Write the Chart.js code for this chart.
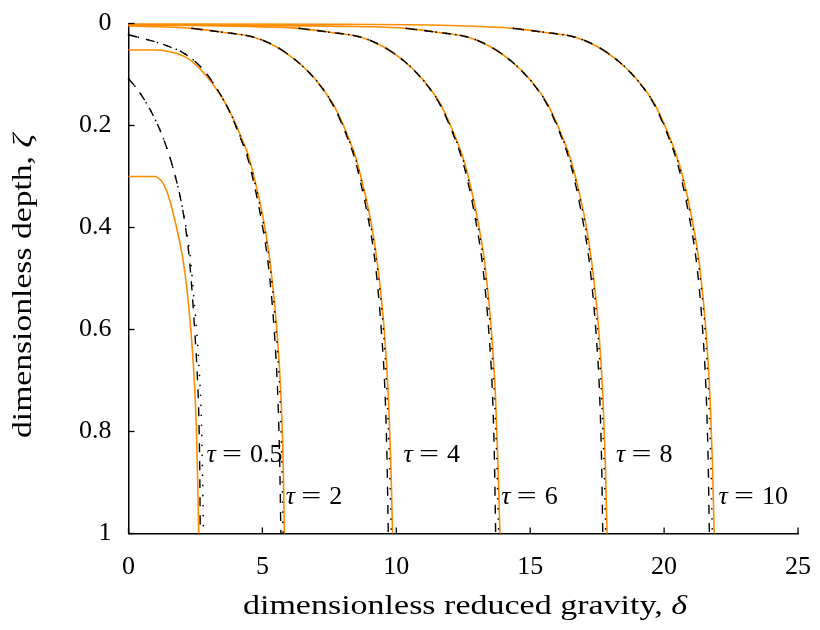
<!DOCTYPE html>
<html>
<head>
<meta charset="utf-8">
<script src="https://cdn.jsdelivr.net/npm/chart.js@4/dist/chart.umd.min.js"></script>
<style>
  html, body { margin: 0; padding: 0; background: #fff; }
  #wrap { width: 820px; height: 630px; }
</style>
</head>
<body>
<div id="wrap"><canvas id="c" width="820" height="630"></canvas></div>
<script>
// Profiles of reduced gravity δ against depth ζ, one family per time τ.
// Each point is [δ, ζ].
const tauLabels = ['0.5', '2', '4', '6', '8', '10'];
const labelDelta = [2.91, 5.87, 10.27, 13.92, 18.2, 22.03];
const labelZeta  = [0.846, 0.928, 0.846, 0.928, 0.846, 0.928];
const xTicks = [0, 5, 10, 15, 20, 25];
const yTicks = [0, 0.2, 0.4, 0.6, 0.8, 1];

// solid (orange) profiles
const solid05 = [[0,0.3],[1.0,0.3],[1.12,0.303],[1.25,0.31],[1.4,0.325],[1.57,0.352],[1.75,0.39],[1.9,0.425],[2.05,0.468],[2.19,0.525],[2.31,0.59],[2.41,0.66],[2.49,0.735],[2.55,0.82],[2.59,0.91],[2.62,1.0]];
const solid2  = [[0,0.052],[1.0,0.052],[1.4,0.054],[1.8,0.059],[2.2,0.068],[2.6,0.085],[2.94,0.105],[3.3,0.13],[3.57,0.152],[3.9,0.185],[4.2,0.222],[4.47,0.258],[4.73,0.31],[5.05,0.388],[5.3,0.473],[5.54,0.601],[5.7,0.738],[5.78,0.87],[5.82,1.0]];
const solid4  = [[0,0.005],[1.2,0.0065],[2.37,0.0095],[3.5,0.017],[4.69,0.027],[5.5,0.045],[6.29,0.074],[6.94,0.107],[7.57,0.152],[7.9,0.185],[8.2,0.222],[8.47,0.26],[8.69,0.303],[9.05,0.388],[9.3,0.473],[9.55,0.601],[9.71,0.738],[9.8,0.87],[9.86,1.0]];
const solid6  = [[0,0.0035],[2.5,0.004],[4.5,0.006],[6.37,0.0095],[7.5,0.017],[8.69,0.027],[9.5,0.045],[10.3,0.074],[10.94,0.107],[11.58,0.152],[11.9,0.185],[12.2,0.222],[12.47,0.26],[12.7,0.303],[13.05,0.388],[13.31,0.473],[13.55,0.601],[13.71,0.738],[13.8,0.87],[13.87,1.0]];
const solid8  = [[0,0.0025],[5,0.0035],[8.5,0.006],[10.37,0.0095],[11.5,0.017],[12.69,0.027],[13.5,0.045],[14.3,0.074],[14.94,0.107],[15.58,0.152],[15.9,0.185],[16.2,0.222],[16.47,0.26],[16.7,0.303],[17.06,0.388],[17.31,0.473],[17.56,0.601],[17.72,0.738],[17.81,0.87],[17.87,1.0]];
const solid10 = [[0,0.001],[8,0.0015],[12,0.004],[14.37,0.0095],[15.5,0.017],[16.69,0.027],[17.5,0.045],[18.3,0.074],[18.94,0.107],[19.58,0.152],[19.9,0.185],[20.2,0.222],[20.47,0.26],[20.71,0.303],[21.06,0.388],[21.32,0.473],[21.56,0.601],[21.72,0.738],[21.81,0.87],[21.87,1.0]];

// dashed (black) profiles
const dash05 = [[0,0.108],[0.3,0.127],[0.6,0.15],[0.9,0.178],[1.2,0.212],[1.5,0.255],[1.75,0.3],[1.95,0.345],[2.13,0.4],[2.27,0.46],[2.38,0.53],[2.47,0.6],[2.56,0.68],[2.62,0.76],[2.66,0.87],[2.68,1.0]];
const dash2  = [[0,0.022],[0.5,0.029],[1.0,0.036],[1.5,0.045],[2.0,0.056],[2.5,0.075],[2.94,0.1],[3.3,0.128],[3.57,0.152],[3.88,0.185],[4.16,0.222],[4.42,0.258],[4.67,0.31],[4.97,0.388],[5.22,0.473],[5.44,0.601],[5.58,0.738],[5.65,0.87],[5.69,1.0]];
const dash4  = [[2.37,0.0095],[3.5,0.017],[4.69,0.027],[5.5,0.045],[6.29,0.074],[6.93,0.107],[7.55,0.152],[7.87,0.185],[8.16,0.222],[8.42,0.26],[8.63,0.303],[8.97,0.388],[9.22,0.473],[9.44,0.601],[9.59,0.738],[9.66,0.87],[9.70,1.0]];
const dash6  = [[6.37,0.0095],[7.5,0.017],[8.69,0.027],[9.5,0.045],[10.3,0.074],[10.93,0.107],[11.56,0.152],[11.87,0.185],[12.16,0.222],[12.42,0.26],[12.64,0.303],[12.97,0.388],[13.22,0.473],[13.45,0.601],[13.6,0.738],[13.67,0.87],[13.71,1.0]];
const dash8  = [[10.37,0.0095],[11.5,0.017],[12.69,0.027],[13.5,0.045],[14.3,0.074],[14.93,0.107],[15.56,0.152],[15.87,0.185],[16.16,0.222],[16.42,0.26],[16.64,0.303],[16.97,0.388],[17.22,0.473],[17.45,0.601],[17.6,0.738],[17.67,0.87],[17.71,1.0]];
const dash10 = [[14.37,0.0095],[15.5,0.017],[16.69,0.027],[17.5,0.045],[18.3,0.074],[18.93,0.107],[19.56,0.152],[19.87,0.185],[20.16,0.222],[20.42,0.26],[20.64,0.303],[20.97,0.388],[21.22,0.473],[21.44,0.601],[21.58,0.738],[21.65,0.87],[21.69,1.0]];

// dotted (black) profiles
const dot05 = [[0,0.108],[0.3,0.127],[0.6,0.15],[0.9,0.178],[1.2,0.212],[1.5,0.255],[1.75,0.3],[1.95,0.345],[2.15,0.4],[2.31,0.46],[2.43,0.53],[2.54,0.6],[2.64,0.68],[2.71,0.76],[2.76,0.87],[2.8,1.0]];
const dot2  = [[0,0.022],[0.5,0.029],[1.0,0.036],[1.5,0.045],[2.0,0.056],[2.5,0.075],[2.94,0.1],[3.3,0.128],[3.57,0.152],[3.89,0.185],[4.18,0.222],[4.45,0.258],[4.71,0.31],[5.02,0.388],[5.28,0.473],[5.51,0.601],[5.66,0.738],[5.73,0.87],[5.77,1.0]];
const dot4  = [[2.37,0.0095],[3.5,0.017],[4.69,0.027],[5.5,0.045],[6.29,0.074],[6.94,0.107],[7.56,0.152],[7.89,0.185],[8.18,0.222],[8.45,0.26],[8.67,0.303],[9.02,0.388],[9.28,0.473],[9.52,0.601],[9.66,0.738],[9.75,0.87],[9.81,1.0]];
const dot6  = [[6.37,0.0095],[7.5,0.017],[8.69,0.027],[9.5,0.045],[10.3,0.074],[10.94,0.107],[11.57,0.152],[11.89,0.185],[12.18,0.222],[12.45,0.26],[12.68,0.303],[13.02,0.388],[13.28,0.473],[13.52,0.601],[13.67,0.738],[13.76,0.87],[13.82,1.0]];
const dot8  = [[10.37,0.0095],[11.5,0.017],[12.69,0.027],[13.5,0.045],[14.3,0.074],[14.94,0.107],[15.57,0.152],[15.89,0.185],[16.18,0.222],[16.45,0.26],[16.68,0.303],[17.03,0.388],[17.28,0.473],[17.52,0.601],[17.67,0.738],[17.76,0.87],[17.82,1.0]];
const dot10 = [[14.37,0.0095],[15.5,0.017],[16.69,0.027],[17.5,0.045],[18.3,0.074],[18.94,0.107],[19.57,0.152],[19.89,0.185],[20.18,0.222],[20.45,0.26],[20.69,0.303],[21.03,0.388],[21.29,0.473],[21.53,0.601],[21.67,0.738],[21.75,0.87],[21.8,1.0]];

const FONT = "'Liberation Serif', 'DejaVu Serif', serif";
const FS = 26;
const ORANGE = '#ff8c00';
// plot frame in canvas pixels
const FRAME = { left: 128.5, right: 798, top: 23.5, bottom: 533.5 };

const toXY = a => a.map(p => ({ x: p[0], y: p[1] }));
const base = { showLine: true, pointRadius: 0, fill: false, clip: 6, cubicInterpolationMode: 'monotone' };

const datasets = [];
[dot05, dot2, dot4, dot6, dot8, dot10].forEach(d => datasets.push(Object.assign({}, base, {
  data: toXY(d), borderColor: '#000', borderWidth: 1.7, borderDash: [0.01, 10], borderCapStyle: 'round'
})));
[dash05, dash2, dash4, dash6, dash8, dash10].forEach(d => datasets.push(Object.assign({}, base, {
  data: toXY(d), borderColor: '#000', borderWidth: 1.4, borderDash: [9, 9]
})));
[solid05, solid2, solid4, solid6, solid8, solid10].forEach(d => datasets.push(Object.assign({}, base, {
  data: toXY(d), borderColor: ORANGE, borderWidth: 1.6
})));

// keep tick labels from pushing the plot frame inwards
const noEdgePadding = s => { s.paddingTop = 0; s.paddingBottom = 0; s.paddingLeft = 0; s.paddingRight = 0; };

const decor = {
  id: 'decor',
  afterDraw(chart) {
    const { ctx } = chart;
    const xs = chart.scales.x, ys = chart.scales.y;
    const left = xs.getPixelForValue(0), bottom = ys.getPixelForValue(1);
    ctx.save();
    // inward tick marks
    ctx.strokeStyle = '#000';
    ctx.lineWidth = 1.3;
    xTicks.forEach(v => {
      const px = xs.getPixelForValue(v);
      ctx.beginPath(); ctx.moveTo(px, bottom); ctx.lineTo(px, bottom - 6); ctx.stroke();
    });
    yTicks.forEach(v => {
      const py = ys.getPixelForValue(v);
      ctx.beginPath(); ctx.moveTo(left, py); ctx.lineTo(left + 6, py); ctx.stroke();
    });

    // curve labels: τ=value
    ctx.fillStyle = '#000';
    ctx.textBaseline = 'middle';
    ctx.textAlign = 'left';
    tauLabels.forEach((lab, i) => {
      const x0 = xs.getPixelForValue(labelDelta[i]);
      const y0 = ys.getPixelForValue(labelZeta[i]);
      ctx.font = `italic ${FS}px ${FONT}`;
      ctx.fillText('τ', x0, y0);
      ctx.font = `${FS}px ${FONT}`;
      const we = ctx.measureText('=').width;
      ctx.save();
      ctx.translate(x0 + 15.5, y0);
      ctx.scale(20 / we, 1);
      ctx.fillText('=', 0, 0);
      ctx.restore();
      ctx.fillText(lab, x0 + 43.5, y0);
    });

    // axis titles, with italic symbols, stretched to their set widths
    ctx.textBaseline = 'alphabetic';
    const TS = 27;
    const drawTitle = (main, sym, cx, cy, targetW, rot) => {
      const parts = [{ t: main, font: `${TS}px ${FONT}` }, { t: sym, font: `italic ${TS}px ${FONT}` }];
      let w = 0;
      parts.forEach(p => { ctx.font = p.font; p.w = ctx.measureText(p.t).width; w += p.w; });
      ctx.save();
      ctx.translate(cx, cy);
      ctx.rotate(rot);
      ctx.scale(targetW / w, 1);
      let x = -w / 2;
      parts.forEach(p => { ctx.font = p.font; ctx.fillText(p.t, x, 0); x += p.w; });
      ctx.restore();
    };
    drawTitle('dimensionless reduced gravity, ', 'δ', 465, 614, 444, 0);
    drawTitle('dimensionless depth, ', 'ζ', 31, 286, 304, -Math.PI / 2);
    ctx.restore();
  }
};

const config = {
  type: 'scatter',
  data: { datasets },
  options: {
    responsive: false,
    animation: false,
    devicePixelRatio: 1,
    layout: { padding: { left: 0, right: 820 - FRAME.right, top: FRAME.top, bottom: 0 } },
    plugins: { legend: { display: false }, tooltip: { enabled: false } },
    scales: {
      x: {
        type: 'linear', min: 0, max: 25,
        grid: { display: false, drawTicks: false },
        border: { display: true, color: '#000', width: 1.5 },
        ticks: { font: { family: FONT, size: FS }, color: '#000', padding: 18, maxRotation: 0 },
        afterBuildTicks: s => { s.ticks = xTicks.map(v => ({ value: v })); },
        afterFit: s => { s.height = 630 - FRAME.bottom; noEdgePadding(s); }
      },
      y: {
        type: 'linear', min: 0, max: 1, reverse: true,
        grid: { display: false, drawTicks: false },
        border: { display: true, color: '#000', width: 1.5 },
        ticks: { font: { family: FONT, size: FS }, color: '#000', padding: 17,
                 callback: v => String(Math.round(v * 10) / 10) },
        afterBuildTicks: s => { s.ticks = yTicks.map(v => ({ value: v })); },
        afterFit: s => { s.width = FRAME.left; noEdgePadding(s); }
      }
    }
  },
  plugins: [decor]
};
const chart = new Chart(document.getElementById('c'), config);

// nudge the layout padding until the scales map onto the intended frame
for (let i = 0; i < 6; i++) {
  const xs = chart.scales.x, ys = chart.scales.y;
  const dt = ys.getPixelForValue(0) - FRAME.top;
  const db = ys.getPixelForValue(1) - FRAME.bottom;
  const dl = xs.getPixelForValue(0) - FRAME.left;
  const dr = FRAME.right - xs.getPixelForValue(25);
  if (Math.abs(dt) + Math.abs(db) + Math.abs(dl) + Math.abs(dr) < 0.2) break;
  const pad = chart.config.options.layout.padding;
  pad.top -= dt;
  pad.right -= dr;
  pad.left -= dl;
  pad.bottom += db;
  chart.update();
}
</script>
</body>
</html>
